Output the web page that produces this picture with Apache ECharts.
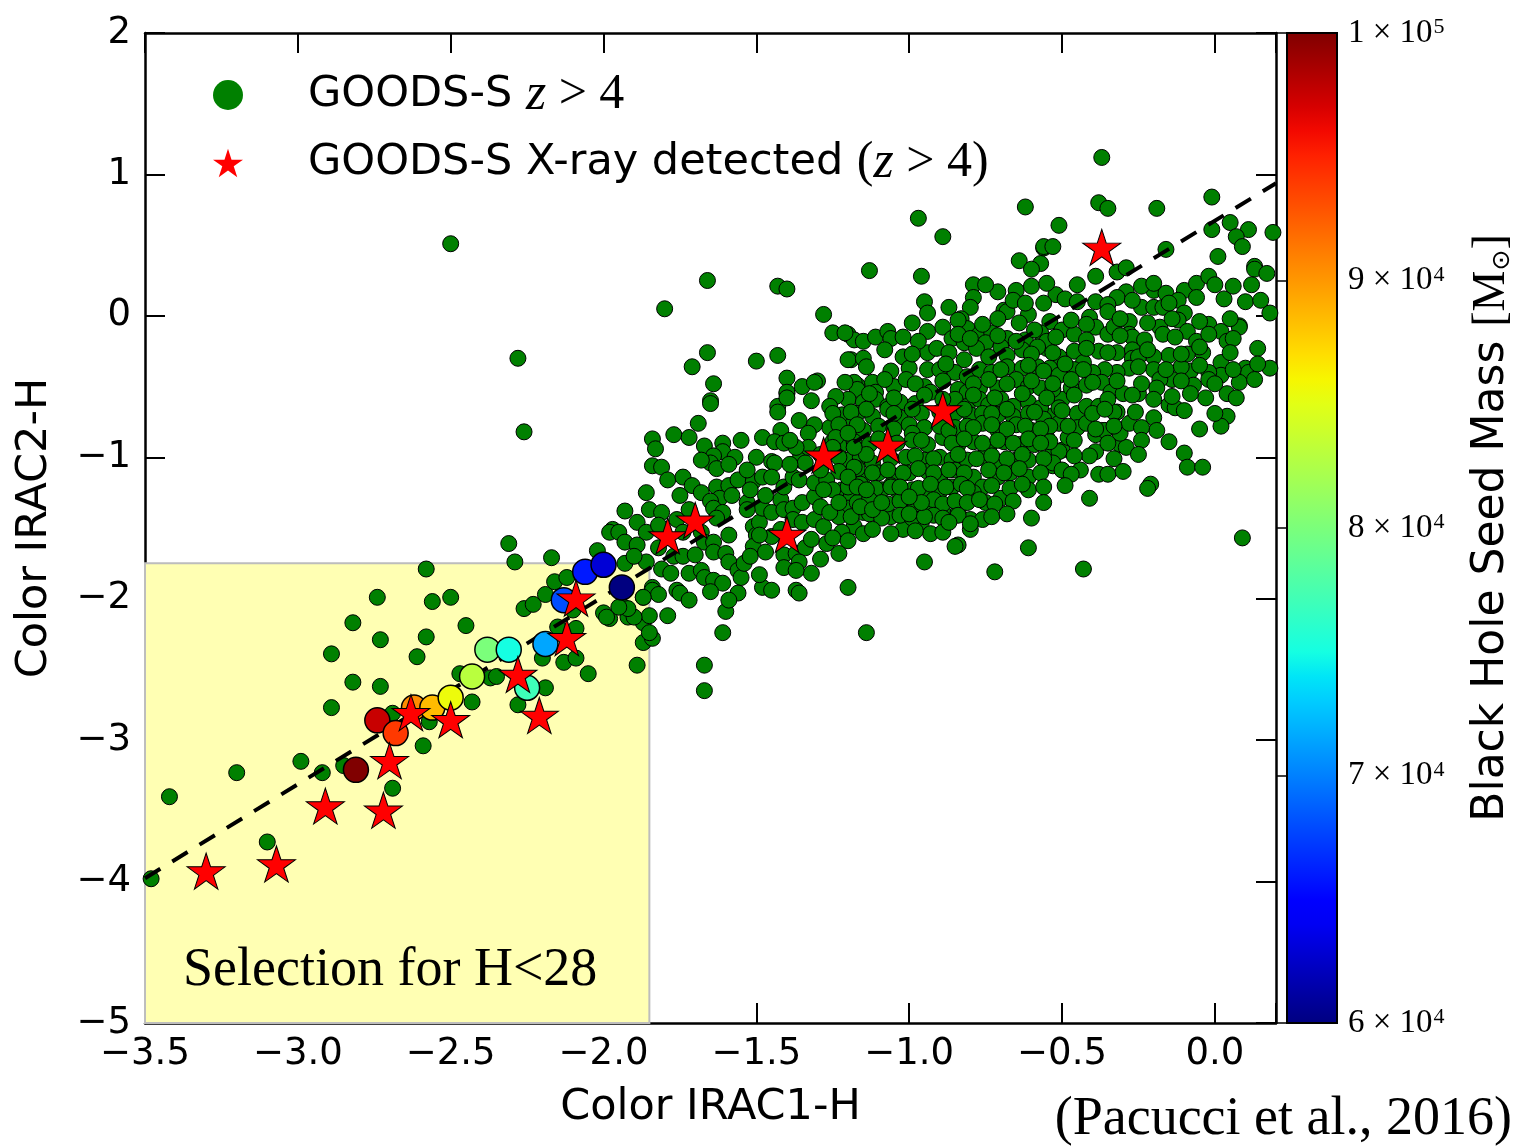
<!DOCTYPE html>
<html>
<head>
<meta charset="utf-8">
<script src="https://cdn.jsdelivr.net/npm/echarts@6/dist/echarts.min.js"></script>
<style>
  html, body { margin: 0; padding: 0; background: #ffffff; }
  #chart { width: 1516px; height: 1147px; }
</style>
</head>
<body>
<div id="chart"></div>
<script>
// GOODS-S z>4 sources: [IRAC1-H, IRAC2-H]
const goodsPoints = [
  // inside the H<28 selection window
  [-3.48,-3.98],[-3.42,-3.40],[-3.20,-3.23],[-3.10,-3.72],[-2.99,-3.15],[-2.92,-3.23],[-2.85,-3.18],[-2.89,-2.77],
  [-2.89,-2.39],[-2.82,-2.59],[-2.82,-2.17],[-2.74,-1.99],[-2.73,-2.29],[-2.73,-2.62],[-2.69,-3.34],[-2.69,-2.81],
  [-2.59,-3.04],[-2.57,-2.87],[-2.61,-2.41],[-2.58,-2.27],[-2.56,-2.02],[-2.58,-1.79],[-2.50,-1.99],[-2.45,-2.19],
  [-2.47,-2.53],[-2.43,-2.73],[-2.37,-2.56],[-2.35,-2.55],[-2.28,-2.75],[-2.19,-2.63],[-2.20,-2.42],[-2.13,-2.45],
  [-2.09,-2.42],[-2.05,-2.53],[-2.15,-2.20],[-2.09,-2.21],[-2.26,-2.07],[-2.23,-2.04],[-2.19,-1.97],[-2.16,-1.88],
  [-2.17,-1.71],[-2.29,-1.74],[-2.31,-1.61],[-2.12,-1.85],[-2.10,-2.08],[-2.00,-2.10],[-1.98,-2.14],[-1.94,-2.05],
  [-1.92,-2.13],[-2.02,-1.66],[-1.93,-1.75],[-1.86,-1.74],[-1.87,-1.99],[-1.84,-1.92],[-1.87,-2.17],[-1.85,-2.12],
  [-1.87,-2.31],[-1.84,-2.28],[-1.89,-2.47],[-2.10,-2.00],
  // upper-left outliers
  [-2.50,0.51],[-2.28,-0.30],[-2.26,-0.82],[-1.80,0.05],[-1.66,0.25],[-1.43,0.21],[-1.40,0.19],[-1.28,0.01],
  [-1.25,-0.12],[-1.20,-0.13],[-1.18,-0.17],[-1.66,-0.26],[-1.71,-0.36],[-1.64,-0.48],[-1.50,-0.32],[-1.43,-0.28],
  [-1.40,-0.44],[-1.35,-0.50],[-1.30,-0.46],[-1.19,-0.31],[-1.40,-0.55],[-1.32,-0.60],[-1.65,-0.60],[-1.17,-0.49],
  [-0.97,0.69],[-0.89,0.56],[-0.62,0.77],[-0.64,0.39],[-0.56,0.48],[-0.57,0.37],[-0.60,0.33],[-1.13,0.32],
  // right-hand part of the cloud
  [-0.37,1.12],[-0.38,0.80],[-0.35,0.76],[-0.19,0.76],[-0.01,0.84],[-0.51,0.64],[-0.56,0.49],[-0.53,0.49],
  [-0.16,0.47],[-0.01,0.61],[0.05,0.66],[0.11,0.61],[0.07,0.56],[0.09,0.49],[0.01,0.42],[0.19,0.59],
  [0.13,0.35],[0.13,0.33],[0.17,0.30],[-0.39,0.28],[-0.32,0.31],[-0.29,0.34],[-0.52,0.15],[-0.56,0.09],
  [-0.29,0.17],[-0.32,0.13],[-0.39,0.10],[-0.35,0.08],[-0.35,0.03],[-0.41,-0.01],[-0.54,-0.04],[-0.50,-0.10],
  [-0.46,-0.13],[-0.39,-0.08],[-0.35,-0.13],[-0.33,-0.08],[-0.28,-0.04],[-0.24,0.06],[-0.20,0.18],[-0.16,0.16],
  [-0.10,0.18],[-0.06,0.23],[-0.02,0.28],[0.00,0.22],[-0.06,0.13],[-0.12,0.11],[-0.10,0.02],[-0.12,-0.03],
  [-0.20,0.06],[-0.17,0.06],[-0.18,-0.08],[-0.17,-0.13],[-0.28,-0.13],[-0.27,-0.15],[-0.09,-0.11],[-0.06,-0.18],
  [-0.04,-0.26],[-0.02,-0.06],[0.02,-0.11],[0.04,-0.18],[0.08,-0.07],[0.08,-0.08],[0.18,0.02],[0.10,-0.37],
  [0.11,-0.40],[0.18,-0.37],[0.02,-0.33],[0.02,-0.42],[0.08,-0.47],[0.04,-0.55],[-0.03,-0.58],[-0.02,-0.40],
  [-0.02,-0.45],[-0.08,-0.39],[-0.07,-0.49],[-0.11,-0.36],[-0.14,-0.45],[-0.15,-0.28],[-0.09,-0.27],[-0.20,-0.29],
  [-0.20,-0.38],[-0.18,-0.45],[-0.19,-0.51],[-0.20,-0.59],[-0.15,-0.63],[-0.13,-0.65],[-0.20,-0.72],[-0.19,-0.81],
  [0.04,-0.71],[0.02,-0.78],[-0.10,-0.97],[-0.09,-1.07],[-0.04,-1.07],[0.09,-1.57],[-0.21,-1.19],[-0.22,-1.22],
  [-0.41,-1.29],[-0.38,-1.12],[-0.35,-1.12],[-0.44,-1.09],[-0.54,-1.05],[-0.53,-1.06],[-0.50,-0.95],[-0.39,-0.96],
  [-0.41,-0.99],[-0.31,-0.91],[-0.29,-0.93],[-0.31,-0.83],[-0.37,-0.81],[-0.39,-0.84],[-0.28,-0.76],[-0.32,-0.68],
  [-0.46,-0.25],[-0.51,-0.29],[-0.55,-0.23],[-0.57,-0.12],[-0.38,-0.25],[-0.32,-0.26],[-0.27,-0.24],[-0.27,-0.30],
  [-0.25,-0.29],[-0.28,-0.37],[-0.32,-0.40],[-0.36,-0.38],[-0.40,-0.40],[-0.43,-0.33],[-0.46,-0.38],[-0.54,-0.37],
  [-0.51,-0.42],[-0.53,-0.54],[-0.50,-0.59],[-0.47,-0.51],[-0.42,-0.49],[-0.37,-0.47],[-0.34,-0.54],[-0.30,-0.55],
  [-0.25,-0.55],[-0.57,-0.68],[-0.54,-0.71],[-0.51,-0.65],[-0.45,-0.69],[-0.42,-0.64],[-0.38,-0.64],[-0.33,-0.68],
  [-0.56,-0.81],[-0.51,-0.76],[-0.45,-0.79],[-0.42,-0.76],[-0.36,-0.81],[-0.55,-0.86],[-0.48,-0.86],[-0.53,-0.97],
  [-0.51,-0.96],
  // central cloud
  [-0.96,0.28],[-0.79,0.22],[-0.71,0.17],[-0.65,0.18],[-0.95,0.10],[-0.94,0.02],[-0.79,0.13],[-0.80,0.06],
  [-0.87,0.06],[-0.83,-0.02],[-0.81,-0.09],[-0.69,0.04],[-0.68,0.03],[-0.61,0.01],[-0.99,-0.05],[-1.21,-0.12],
  [-1.15,-0.18],[-1.11,-0.15],[-1.07,-0.11],[-1.06,-0.16],[-0.94,-0.11],[-0.89,-0.08],[-0.86,-0.16],[-0.82,-0.19],
  [-0.77,-0.13],[-0.73,-0.12],[-0.75,-0.19],[-0.68,-0.16],[-0.62,-0.17],[-0.59,-0.10],[-0.55,-0.18],[-1.20,-0.31],
  [-1.15,-0.30],[-1.02,-0.29],[-0.94,-0.26],[-0.91,-0.23],[-0.87,-0.26],[-0.82,-0.31],[-0.78,-0.23],[-0.74,-0.29],
  [-0.70,-0.22],[-0.68,-0.28],[-0.63,-0.24],[-0.58,-0.22],[-0.53,-0.26],[-1.00,-0.37],[-0.94,-0.38],[-0.90,-0.38],
  [-0.85,-0.40],[-0.81,-0.43],[-0.77,-0.38],[-0.73,-0.40],[-0.68,-0.36],[-0.63,-0.37],[-0.58,-0.36],[-1.18,-0.47],
  [-1.17,-0.52],[-1.12,-0.47],[-1.11,-0.54],[-1.05,-0.50],[-1.01,-0.45],[-0.95,-0.50],[-0.93,-0.54],[-0.84,-0.52],
  [-0.81,-0.54],[-0.77,-0.51],[-0.71,-0.51],[-0.65,-0.45],[-0.61,-0.50],[-0.57,-0.51],[-0.53,-0.52],[-1.20,-0.59],
  [-1.15,-0.61],[-1.11,-0.59],[-1.07,-0.64],[-1.03,-0.61],[-0.98,-0.62],[-0.85,-0.59],[-0.81,-0.64],[-0.77,-0.59],
  [-0.74,-0.63],[-0.70,-0.59],[-0.66,-0.64],[-0.61,-0.61],[-0.57,-0.65],[-1.22,-0.70],[-1.17,-0.69],[-1.12,-0.71],
  [-1.07,-0.66],[-1.03,-0.72],[-0.96,-0.69],[-0.85,-0.69],[-0.80,-0.70],[-0.76,-0.69],[-0.71,-0.70],[-0.66,-0.71],
  [-0.61,-0.69],[-0.56,-0.73],[-1.19,-0.78],[-1.15,-0.81],[-1.10,-0.78],[-1.00,-0.77],[-0.95,-0.79],[-0.99,-0.83],
  [-0.85,-0.79],[-0.81,-0.78],[-0.76,-0.76],[-0.71,-0.81],[-0.65,-0.77],[-0.60,-0.81],[-0.54,-0.78],[-1.22,-0.91],
  [-1.18,-0.89],[-1.13,-0.91],[-0.99,-0.88],[-0.94,-0.91],[-0.89,-0.86],[-0.84,-0.91],[-0.79,-0.89],[-0.74,-0.93],
  [-0.69,-0.89],[-0.64,-0.91],[-0.59,-0.91],[-0.54,-0.89],[-1.20,-1.02],[-1.16,-1.00],[-1.12,-1.04],[-1.01,-1.00],
  [-0.95,-1.02],[-0.90,-1.00],[-0.86,-1.02],[-0.81,-1.02],[-0.76,-1.00],[-0.70,-1.04],[-0.65,-1.02],[-0.61,-1.02],
  [-0.53,-1.04],[-1.19,-1.11],[-1.15,-1.14],[-1.10,-1.11],[-1.05,-1.14],[-1.00,-1.11],[-0.94,-1.10],[-0.90,-1.14],
  [-0.85,-1.09],[-0.79,-1.14],[-0.76,-1.21],[-0.71,-1.14],[-0.67,-1.11],[-0.61,-1.14],[-1.22,-1.23],[-1.19,-1.28],
  [-1.13,-1.25],[-1.09,-1.23],[-1.04,-1.23],[-0.99,-1.23],[-0.95,-1.23],[-0.90,-1.24],[-0.86,-1.21],[-0.79,-1.25],
  [-0.75,-1.32],[-0.70,-1.29],[-1.20,-1.36],[-1.15,-1.39],[-1.10,-1.35],[-1.06,-1.42],[-1.00,-1.35],[-0.96,-1.46],
  [-0.94,-1.36],[-0.87,-1.42],[-0.84,-1.39],[-0.80,-1.44],[-0.76,-1.44],[-1.18,-1.49],[-1.15,-1.54],[-1.02,-1.51],
  [-0.93,-1.54],[-0.84,-1.62],[-0.61,-1.23],[-0.60,-1.43],[-0.61,-1.64],[-1.23,-1.68],
  // densest part of the core, between the points above
  [-0.84,-0.03],[-0.76,-0.06],[-0.71,-0.02],[-0.64,-0.05],[-0.47,-0.03],[-0.42,-0.06],[-0.31,-0.02],[-0.22,-0.05],
  [-0.14,-0.02],[-0.05,-0.04],[0.05,-0.02],
  [-1.02,-0.15],[-0.97,-0.18],[-0.84,-0.13],[-0.80,-0.16],[-0.71,-0.14],[-0.65,-0.18],[-0.52,-0.15],[-0.42,-0.17],
  [-0.31,-0.14],[-0.23,-0.17],[-0.13,-0.15],[-0.02,-0.13],[0.06,-0.16],
  [-1.08,-0.24],[-0.99,-0.27],[-0.60,-0.27],[-0.42,-0.23],[-0.35,-0.26],[-0.22,-0.24],[-0.11,-0.27],[-0.05,-0.22],
  [0.05,-0.26],[0.14,-0.23],
  [-1.14,-0.36],[-1.06,-0.39],[-0.88,-0.34],[-0.70,-0.38],[-0.61,-0.35],[-0.56,-0.39],[-0.49,-0.34],[-0.43,-0.38],
  [-0.25,-0.36],[-0.16,-0.38],[-0.05,-0.35],[0.06,-0.38],[0.14,-0.34],
  [-1.21,-0.47],[-1.08,-0.45],[-0.98,-0.48],[-0.89,-0.46],[-0.79,-0.48],[-0.74,-0.45],[-0.68,-0.48],[-0.60,-0.46],
  [-0.53,-0.48],[-0.47,-0.45],[-0.40,-0.47],[-0.32,-0.46],[-0.24,-0.48],[-0.11,-0.46],[0.00,-0.48],[0.13,-0.45],
  [-1.24,-0.57],[-1.13,-0.55],[-1.05,-0.58],[-0.95,-0.56],[-0.89,-0.59],[-0.79,-0.56],[-0.72,-0.58],[-0.63,-0.55],
  [-0.55,-0.58],[-0.46,-0.56],[-0.35,-0.59],[-0.27,-0.56],[-0.14,-0.57],[-0.08,-0.55],[0.07,-0.58],
  [-1.19,-0.68],[-1.14,-0.66],[-1.05,-0.69],[-0.99,-0.66],[-0.90,-0.68],[-0.82,-0.66],[-0.73,-0.69],[-0.68,-0.66],
  [-0.59,-0.68],[-0.50,-0.67],[-0.40,-0.69],[-0.36,-0.66],[-0.26,-0.68],[-0.10,-0.67],[0.00,-0.69],
  [-1.26,-0.79],[-1.17,-0.77],[-1.05,-0.80],[-0.90,-0.78],[-0.87,-0.81],[-0.79,-0.79],[-0.73,-0.77],[-0.68,-0.80],
  [-0.62,-0.78],[-0.57,-0.80],[-0.48,-0.78],[-0.39,-0.80],[-0.33,-0.78],[-0.24,-0.79],[-0.05,-0.80],
  [-1.25,-0.89],[-1.10,-0.87],[-1.04,-0.90],[-0.96,-0.88],[-0.86,-0.90],[-0.82,-0.87],[-0.76,-0.90],[-0.71,-0.88],
  [-0.66,-0.90],[-0.61,-0.87],[-0.57,-0.90],[-0.46,-0.88],[-0.35,-0.90],[-0.24,-0.88],[-0.15,-0.89],
  [-1.23,-1.00],[-1.14,-0.98],[-1.06,-1.01],[-0.98,-0.99],[-0.92,-1.01],[-0.84,-0.98],[-0.78,-1.01],[-0.73,-0.99],
  [-0.68,-1.01],[-0.63,-0.98],[-0.56,-1.01],[-0.46,-0.99],[-0.33,-1.01],[-0.25,-0.98],
  [-1.23,-1.10],[-1.17,-1.08],[-1.12,-1.11],[-1.07,-1.09],[-1.02,-1.11],[-0.97,-1.08],[-0.92,-1.11],[-0.87,-1.09],
  [-0.82,-1.11],[-0.74,-1.09],[-0.69,-1.11],[-0.64,-1.08],[-0.57,-1.11],[-0.50,-1.09],[-0.47,-1.12],[-0.30,-1.10],
  [-1.20,-1.21],[-1.16,-1.19],[-1.11,-1.22],[-1.06,-1.20],[-0.97,-1.22],[-0.93,-1.19],[-0.88,-1.21],[-0.83,-1.19],
  [-0.81,-1.22],[-0.73,-1.20],[-0.67,-1.22],[-0.63,-1.19],[-0.56,-1.21],[-0.49,-1.20],
  [-1.17,-1.32],[-1.13,-1.30],[-1.07,-1.33],[-1.03,-1.31],[-0.98,-1.33],[-0.92,-1.30],[-0.89,-1.33],[-0.85,-1.31],
  [-0.81,-1.32],[-0.77,-1.30],[-0.72,-1.33],[-0.66,-1.31],[-0.56,-1.32],
  [-1.23,-1.42],[-1.13,-1.40],[-1.09,-1.43],[-1.03,-1.41],[-0.99,-1.43],[-0.92,-1.41],[-0.89,-1.43],[-0.84,-1.41],
  [-0.73,-1.42],[-0.68,-1.40],
  [-1.22,-1.53],[-1.12,-1.51],[-1.06,-1.54],[-0.98,-1.52],[-0.89,-1.53],[-0.80,-1.51],
  [-0.66,0.11],[-0.62,0.09],[-0.49,0.12],[-0.45,0.10],[-0.27,0.11],[-0.15,0.09],[0.03,0.12],[0.10,0.10],[0.15,0.11],
  [-0.75,0.22],[-0.60,0.21],[-0.55,0.23],[-0.45,0.22],[-0.24,0.21],[-0.20,0.23],[0.06,0.21],[0.12,0.22],
  // lower-left arm of the cloud
  [-1.65,-0.62],[-1.69,-0.76],[-1.77,-0.84],[-1.72,-0.86],[-1.84,-0.87],[-1.83,-0.94],[-1.67,-0.92],[-1.61,-0.90],
  [-1.61,-0.96],[-1.55,-0.88],[-1.64,-0.99],[-1.65,-1.04],[-1.63,-1.08],[-1.57,-1.00],[-1.59,-1.05],[-1.84,-1.06],
  [-1.81,-1.07],[-1.79,-1.16],[-1.74,-1.14],[-1.71,-1.20],[-1.86,-1.25],[-1.75,-1.27],[-1.68,-1.25],[-1.63,-1.21],
  [-1.62,-1.29],[-1.59,-1.20],[-1.58,-1.27],[-1.65,-1.31],[-1.64,-1.36],[-1.56,-1.16],[-1.51,-1.17],[-1.50,-1.00],
  [-1.48,-0.86],[-1.43,-0.64],[-1.43,-0.68],[-1.40,-0.54],[-1.40,-0.58],[-1.31,-0.47],[-1.36,-0.74],[-1.31,-0.77],
  [-1.33,-0.83],[-1.42,-0.81],[-1.44,-0.89],[-1.41,-0.90],[-1.45,-1.03],[-1.44,-1.04],[-1.48,-1.14],[-1.45,-1.14],
  [-1.53,-1.32],[-1.93,-1.38],[-1.89,-1.46],[-1.85,-1.37],[-1.81,-1.39],[-1.61,-1.39],[-1.63,-1.43],[-1.97,-1.51],
  [-1.98,-1.53],[-1.95,-1.53],[-1.93,-1.60],[-1.89,-1.62],[-1.86,-1.53],[-1.90,-1.70],[-1.76,-1.44],[-1.74,-1.53],
  [-1.68,-1.53],[-1.67,-1.60],[-1.64,-1.60],[-1.59,-1.55],[-1.64,-1.67],[-1.82,-1.64],[-1.77,-1.70],[-1.74,-1.70],
  [-1.81,-1.79],[-1.78,-1.82],[-1.76,-1.94],[-1.75,-1.96],[-1.72,-1.82],[-1.68,-1.80],[-1.67,-1.85],[-1.64,-1.87],
  [-1.61,-1.89],[-1.65,-1.95],[-1.60,-1.68],[-1.59,-1.74],[-1.56,-1.80],[-1.55,-1.85],[-1.54,-1.75],[-1.84,-1.94],
  [-1.82,-1.97],[-1.87,-1.99],[-1.85,-2.24],[-1.90,-2.13],[-1.92,-2.07],[-1.95,-2.06],[-1.99,-2.13],[-1.79,-2.12],
  [-1.56,-1.96],[-1.60,-2.09],[-1.61,-2.24],[-1.51,-1.49],[-1.50,-1.55],[-1.51,-1.63],[-1.52,-1.70],[-1.49,-1.46],
  [-1.48,-1.36],[-1.45,-1.39],[-1.47,-1.67],[-1.45,-1.56],[-1.41,-1.69],[-1.41,-1.78],[-1.37,-1.68],[-1.34,-1.64],
  [-1.36,-1.74],[-1.48,-1.92],[-1.45,-1.94],[-1.37,-1.94],[-1.36,-1.96],[-1.32,-1.82],[-1.42,-1.30],[-1.41,-1.37],
  [-1.38,-1.36],[-1.35,-1.32],[-1.31,-1.28],[-1.38,-1.44],[-1.35,-1.46],[-1.31,-1.44],[-1.28,-1.49],[-1.27,-1.61],
  [-1.25,-1.57],[-1.41,-1.21],[-1.38,-1.14],[-1.36,-1.16],[-1.31,-1.18],[-1.27,-1.16],[-1.25,-1.23],[-1.29,-1.35],
  [-1.26,-1.39],[-1.23,-1.32],[-1.36,-1.02],[-1.34,-1.04],[-1.33,-0.93],[-1.37,-0.93],[-1.26,-0.64],[-1.25,-0.69],
  [-1.23,-0.77],[-1.24,-0.86],[-1.25,-0.93],[-1.20,-0.83],[-1.18,-0.93],[-1.18,-1.07],[-1.20,-1.14],[-1.17,-1.21],
  [-1.14,-1.23],[-1.19,-1.42],[-1.16,-1.35],[-1.20,-1.59],[-1.12,-1.37],[-1.09,-1.32],[-1.00,-1.40],[-0.95,-1.42],
  [-0.96,-1.32],[-0.95,-1.74],[-1.20,-1.92],[-1.14,-2.24],[-1.06,-1.21],[-1.03,-1.21],[-1.00,-1.28],
  [-1.68,-1.02],[-1.53,-1.09],[-1.52,-1.23],[-1.47,-1.27],[-1.39,-1.05],[-1.39,-0.88],[-1.29,-0.98],[-1.29,-1.09],
  [-1.28,-1.23],[-1.32,-1.58],[-1.29,-1.72],[-1.49,-1.83],[-1.72,-1.37],[-1.82,-1.48],[-1.70,-1.69],[-1.59,-2.01],
  [-1.72,-2.01],[-1.49,-1.55],[-1.53,-1.37],[-1.42,-1.51],[-1.37,-1.80],
  // scattered points below the cloud
  [-1.67,-2.47],[-1.67,-2.65],[-0.43,-1.79],[-0.72,-1.81],[-0.85,-1.63],[-0.87,-1.46],[-0.80,-1.47]
];

// X-ray detected sources (z>4): [IRAC1-H, IRAC2-H]
const xrayPoints = [
  [-3.30,-3.94],[-3.07,-3.89],[-2.91,-3.48],[-2.72,-3.51],[-2.70,-3.16],[-2.63,-2.82],
  [-2.50,-2.87],[-2.28,-2.55],[-2.21,-2.84],[-2.12,-2.29],[-2.09,-2.01],[-1.79,-1.57],
  [-1.70,-1.46],[-1.40,-1.56],[-1.28,-1.00],[-1.07,-0.93],[-0.89,-0.68],[-0.37,0.47]
];

// Model colours for seeds: [IRAC1-H, IRAC2-H, seed mass in Msun]
const seedPoints = [
  [-2.81,-3.21,100000],[-2.74,-2.86,97500],[-2.68,-2.95,94000],[-2.62,-2.77,90500],
  [-2.56,-2.77,88500],[-2.50,-2.70,85500],[-2.43,-2.55,83000],[-2.38,-2.36,80000],
  [-2.31,-2.36,75000],[-2.25,-2.63,77000],[-2.19,-2.32,71500],[-2.13,-2.01,68000],
  [-2.06,-1.81,66000],[-2.00,-1.76,63000],[-1.94,-1.92,60000]
];

// Linear relation between the two colours (end points)
const fitLine = [[-3.5,-3.976],[0.2,0.938]];

// H<28 selection window (upper corner; lower corner is the axis origin)
const selectionCorner = [-1.85,-1.75];

// axis ranges / ticks
const xRange = [-3.5, 0.2], xStep = 0.5;
const yRange = [-5, 2], yStep = 1;
const massRange = [60000, 100000], massStep = 10000;

const legendNames = ['GOODS-S z > 4', 'GOODS-S X-ray detected (z > 4)'];

// matplotlib "jet" colour map
const JET = {
  r: [[0,0],[0.35,0],[0.66,1],[0.89,1],[1,0.5]],
  g: [[0,0],[0.125,0],[0.375,1],[0.64,1],[0.91,0],[1,0]],
  b: [[0,0.5],[0.11,1],[0.34,1],[0.65,0],[1,0]]
};
function jetChan(pts, t) {
  for (let i = 1; i < pts.length; i++) {
    if (t <= pts[i][0]) {
      const t0 = pts[i-1][0], v0 = pts[i-1][1], t1 = pts[i][0], v1 = pts[i][1];
      return v0 + (v1 - v0) * (t - t0) / (t1 - t0);
    }
  }
  return pts[pts.length-1][1];
}
function jet(t) {
  const c = k => Math.round(255 * jetChan(JET[k], t));
  return 'rgb(' + c('r') + ',' + c('g') + ',' + c('b') + ')';
}
const jetColors = [];
const jetStops = [];
for (let i = 0; i <= 40; i++) {
  jetColors.push(jet(i / 40));
  jetStops.push({ offset: i / 40, color: jet(1 - i / 40) });
}

const MINUS = '\u2212';
const fmtX = v => {
  if (Math.abs(v - xRange[1]) < 1e-9) return '';
  const s = Math.abs(v).toFixed(1);
  return (v < -1e-9 ? MINUS : '') + s;
};
const fmtY = v => {
  const r = Math.round(v);
  return (r < 0 ? MINUS : '') + Math.abs(r);
};
const fmtMass = v => {
  const e = Math.floor(Math.log10(v) + 1e-9);
  const m = Math.round(v / Math.pow(10, e));
  return '{n|' + m + ' \u00d7 10}{s|' + e + '}';
};

const starPath = 'path://M50 0 L61.23 34.55 L97.55 34.55 L68.17 55.9 L79.39 90.45 L50 69.1 L20.61 90.45 L31.83 55.9 L2.45 34.55 L38.77 34.55 Z';

const axisLineStyle = { color: '#000', width: 2.5 };
const tickStyle = { show: true, inside: true, length: 20, lineStyle: { color: '#000', width: 2 } };
const tickFont = { fontFamily: 'DejaVu Sans', fontSize: 37, color: '#000' };

const chart = echarts.init(document.getElementById('chart'), null, { renderer: 'canvas' });

chart.setOption({
  animation: false,
  backgroundColor: '#ffffff',
  grid: [
    { left: 145, top: 33, width: 1131, height: 990, containLabel: false },
    { left: 1287, top: 33, width: 50, height: 990, show: true, z: 6,
      borderColor: '#000', borderWidth: 2,
      backgroundColor: { type: 'linear', x: 0, y: 0, x2: 0, y2: 1, colorStops: jetStops } }
  ],
  xAxis: [
    { type: 'value', gridIndex: 0, min: xRange[0], max: xRange[1], interval: xStep, position: 'bottom',
      axisLine: { show: true, onZero: false, lineStyle: axisLineStyle },
      axisTick: tickStyle, splitLine: { show: false },
      axisLabel: Object.assign({ margin: 13, formatter: fmtX, showMaxLabel: true }, tickFont),
      name: 'Color IRAC1-H', nameLocation: 'middle', nameGap: 63,
      nameTextStyle: { fontFamily: 'DejaVu Sans', fontSize: 43, color: '#000' } },
    { type: 'value', gridIndex: 0, min: xRange[0], max: xRange[1], interval: xStep, position: 'top',
      axisLine: { show: true, onZero: false, lineStyle: axisLineStyle },
      axisTick: tickStyle, splitLine: { show: false }, axisLabel: { show: false } },
    { type: 'value', gridIndex: 1, min: 0, max: 1, show: false }
  ],
  yAxis: [
    { type: 'value', gridIndex: 0, min: yRange[0], max: yRange[1], interval: yStep, position: 'left',
      axisLine: { show: true, onZero: false, lineStyle: axisLineStyle },
      axisTick: tickStyle, splitLine: { show: false },
      axisLabel: Object.assign({ margin: 14, formatter: fmtY }, tickFont),
      name: 'Color IRAC2-H', nameLocation: 'middle', nameGap: 89,
      nameTextStyle: { fontFamily: 'DejaVu Sans', fontSize: 43, color: '#000' } },
    { type: 'value', gridIndex: 0, min: yRange[0], max: yRange[1], interval: yStep, position: 'right',
      axisLine: { show: true, onZero: false, lineStyle: axisLineStyle },
      axisTick: tickStyle, splitLine: { show: false }, axisLabel: { show: false } },
    { type: 'value', gridIndex: 1, min: massRange[0], max: massRange[1], interval: massStep, position: 'right',
      axisLine: { show: false },
      axisTick: { show: true, inside: true, length: 10, lineStyle: { color: '#000', width: 1.5 } },
      splitLine: { show: false },
      axisLabel: {
        margin: 11, formatter: fmtMass, color: '#000',
        rich: {
          n: { fontFamily: 'Liberation Serif', fontSize: 33, color: '#000' },
          s: { fontFamily: 'Liberation Serif', fontSize: 22, color: '#000', verticalAlign: 'top', padding: [0, 0, 0, 1] }
        }
      },
      name: 'Black Hole Seed Mass {b|[M}{o|\u2299}{b|]}', nameLocation: 'middle', nameGap: 132,
      nameTextStyle: {
        fontFamily: 'DejaVu Sans', fontSize: 44, color: '#000',
        rich: {
          b: { fontFamily: 'Liberation Serif', fontSize: 46, color: '#000' },
          o: { fontFamily: 'DejaVu Sans', fontSize: 25, color: '#000', verticalAlign: 'bottom' }
        }
      } }
  ],
  visualMap: {
    show: false, type: 'continuous', seriesIndex: 3, dimension: 2,
    min: massRange[0], max: massRange[1], inRange: { color: jetColors }
  },
  legend: {
    data: legendNames, orient: 'vertical', left: 213, top: 69, padding: 0,
    itemWidth: 30, itemHeight: 30, itemGap: 16,
    itemStyle: { borderWidth: 0 },
    textStyle: {
      fontFamily: 'DejaVu Sans', fontSize: 43, color: '#000', lineHeight: 50, padding: [0, 0, 0, 60],
      rich: {
        i: { fontFamily: 'Liberation Serif', fontStyle: 'italic', fontSize: 52, color: '#000', lineHeight: 50 },
        m: { fontFamily: 'Liberation Serif', fontSize: 50, color: '#000', lineHeight: 50 }
      }
    },
    formatter: name => {
      if (name === legendNames[0]) return 'GOODS-S {i|z}{m| > 4}';
      return 'GOODS-S X-ray detected {m|(}{i|z}{m| > 4)}';
    }
  },
  graphic: [
    { type: 'text', left: 183, top: 944, z: 10,
      style: { text: 'Selection for H<28', font: '54px "Liberation Serif"', fill: '#000' } },
    { type: 'text', right: 4, top: 1093, z: 10,
      style: { text: '(Pacucci et al., 2016)', font: '54px "Liberation Serif"', fill: '#000' } }
  ],
  series: [
    { // selection window
      type: 'line', xAxisIndex: 0, yAxisIndex: 0, data: [], silent: true,
      markArea: {
        silent: true, label: { show: false },
        itemStyle: { color: '#ffffb3', borderColor: '#bdbdbd', borderWidth: 2 },
        data: [[{ coord: [xRange[0], yRange[0]] }, { coord: selectionCorner }]]
      }
    },
    {
      name: legendNames[0], type: 'scatter', xAxisIndex: 0, yAxisIndex: 0, z: 2,
      data: goodsPoints, symbol: 'circle', symbolSize: 16,
      itemStyle: { color: '#008000', borderColor: '#000', borderWidth: 1, opacity: 1 }
    },
    {
      type: 'line', xAxisIndex: 0, yAxisIndex: 0, z: 3, data: fitLine, symbol: 'none', silent: true,
      lineStyle: { color: '#000', width: 4, type: [18, 14] }
    },
    {
      type: 'scatter', xAxisIndex: 0, yAxisIndex: 0, z: 4,
      data: seedPoints, symbol: 'circle', symbolSize: 25,
      itemStyle: { borderColor: '#000', borderWidth: 1.5, opacity: 1 }
    },
    {
      name: legendNames[1], type: 'scatter', xAxisIndex: 0, yAxisIndex: 0, z: 5,
      data: xrayPoints, symbol: starPath, symbolSize: [38, 36], symbolOffset: [0, -2],
      itemStyle: { color: '#ff0000', borderColor: '#000', borderWidth: 1, opacity: 1 }
    }
  ]
});
</script>
</body>
</html>
